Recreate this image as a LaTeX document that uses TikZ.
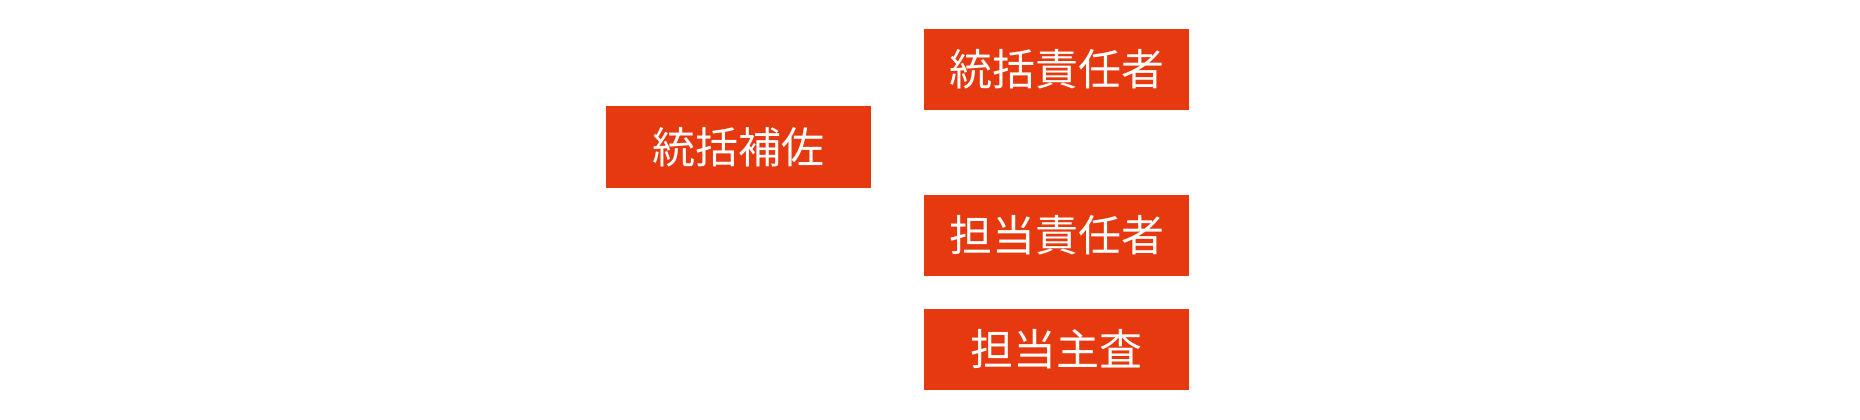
\documentclass[tikz,border=0pt]{standalone}
\usepackage{fontspec}
\usepackage{tikz}
\newfontfamily\jpfont{Noto Sans CJK JP}
\definecolor{boxred}{HTML}{E6390F}

\begin{document}
\begin{tikzpicture}[x=1pt,y=1pt,
  rolebox/.style={fill=boxred, draw=none, text=white, minimum width=265pt, minimum height=81pt, inner sep=0pt, font=\jpfont\fontsize{43}{43}\selectfont}]
\useasboundingbox (0,0) rectangle (1860,420);
%%%ROLES
\node[rolebox] (chief) at (1056.5,350.5) {統括責任者};
\node[rolebox, minimum height=82pt] (assist) at (738.5,273) {統括補佐};
\node[rolebox] (lead) at (1056.5,184.5) {担当責任者};
\node[rolebox] (senior) at (1056.5,70.5) {担当主査};
\end{tikzpicture}
\end{document}
